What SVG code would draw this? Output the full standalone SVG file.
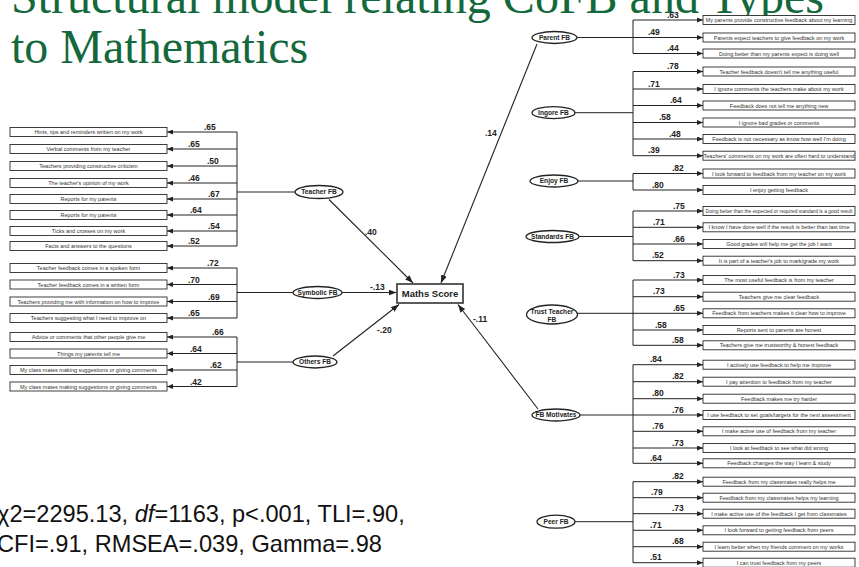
<svg xmlns="http://www.w3.org/2000/svg" width="859" height="567" viewBox="0 0 859 567">
  <style>
    .title { font-family: "Liberation Serif", "Times New Roman", serif; font-size: 48px; fill: #13693b; }
    .stats { font-family: "Liberation Sans", Arial, sans-serif; font-size: 23.6px; fill: #111; }
    .box { fill: #fff; stroke: #2a2a2a; stroke-width: 0.9; }
    .btxt { font-family: "Liberation Sans", Arial, sans-serif; font-size: 5.5px; fill: #333; text-anchor: middle; }
    .lat { fill: #fff; stroke: #222; stroke-width: 1.3; }
    .ltxt { font-family: "Liberation Sans", Arial, sans-serif; font-size: 6.6px; font-weight: bold; fill: #222; text-anchor: middle; }
    .load { font-family: "Liberation Sans", Arial, sans-serif; font-size: 8.5px; font-weight: bold; fill: #222; }
    .wire { fill: none; stroke: #222; stroke-width: 1; }
    .ind { fill: none; stroke: #222; stroke-width: 1; marker-end: url(#tip); }
    .path { fill: none; stroke: #222; stroke-width: 1.1; marker-end: url(#bigtip); }
    .outc { fill: #fff; stroke: #333; stroke-width: 1.6; }
    .otxt { font-family: "Liberation Sans", Arial, sans-serif; font-size: 9.5px; font-weight: bold; fill: #222; text-anchor: middle; }
  </style>
  <defs>
    <marker id="tip" markerUnits="userSpaceOnUse" markerWidth="6" markerHeight="5" refX="6" refY="2.5" orient="auto">
      <path d="M0,0 L6,2.5 L0,5 z" fill="#222"/>
    </marker>
    <marker id="bigtip" markerUnits="userSpaceOnUse" markerWidth="8" markerHeight="6" refX="8" refY="3" orient="auto">
      <path d="M0,0 L8,3 L0,6 z" fill="#222"/>
    </marker>
  </defs>

  <rect width="859" height="567" fill="#fff"/>

  <!-- Title -->
  <g id="title">
    <text class="title" x="11" y="13">Structural model relating CoFB and Types</text>
    <text class="title" x="11" y="63">to Mathematics</text>
  </g>

  <!-- Connectors: buses, indicator arrows and structural paths -->
  <g id="connectors">
    <!-- Teacher FB -->
    <line class="wire" x1="237" y1="132" x2="237" y2="246"/>
    <line class="wire" x1="237" y1="192" x2="295" y2="192"/>
    <line class="ind" x1="237" y1="132" x2="167" y2="132"/>
    <line class="ind" x1="237" y1="149" x2="167" y2="149"/>
    <line class="ind" x1="237" y1="166" x2="167" y2="166"/>
    <line class="ind" x1="237" y1="183" x2="167" y2="183"/>
    <line class="ind" x1="237" y1="199" x2="167" y2="199"/>
    <line class="ind" x1="237" y1="215" x2="167" y2="215"/>
    <line class="ind" x1="237" y1="231" x2="167" y2="231"/>
    <line class="ind" x1="237" y1="246" x2="167" y2="246"/>
    <!-- Symbolic FB -->
    <line class="wire" x1="237" y1="268" x2="237" y2="318"/>
    <line class="wire" x1="237" y1="292.5" x2="293" y2="292.5"/>
    <line class="ind" x1="237" y1="268" x2="167" y2="268"/>
    <line class="ind" x1="237" y1="284.5" x2="167" y2="284.5"/>
    <line class="ind" x1="237" y1="301.5" x2="167" y2="301.5"/>
    <line class="ind" x1="237" y1="318" x2="167" y2="318"/>
    <!-- Others FB -->
    <line class="wire" x1="237" y1="337" x2="237" y2="386.5"/>
    <line class="wire" x1="237" y1="362" x2="293" y2="362"/>
    <line class="ind" x1="237" y1="337" x2="167" y2="337"/>
    <line class="ind" x1="237" y1="353.5" x2="167" y2="353.5"/>
    <line class="ind" x1="237" y1="370" x2="167" y2="370"/>
    <line class="ind" x1="237" y1="386.5" x2="167" y2="386.5"/>

    <!-- Parent FB -->
    <line class="wire" x1="633" y1="20" x2="633" y2="53.5"/>
    <line class="wire" x1="577" y1="37.5" x2="633" y2="37.5"/>
    <line class="ind" x1="633" y1="20" x2="703" y2="20"/>
    <line class="ind" x1="633" y1="37.5" x2="703" y2="37.5"/>
    <line class="ind" x1="633" y1="53.5" x2="703" y2="53.5"/>
    <!-- Ingore FB -->
    <line class="wire" x1="633" y1="71.5" x2="633" y2="155.7"/>
    <line class="wire" x1="575" y1="112.7" x2="633" y2="112.7"/>
    <line class="ind" x1="633" y1="71.5" x2="703" y2="71.5"/>
    <line class="ind" x1="633" y1="89" x2="703" y2="89"/>
    <line class="ind" x1="633" y1="105.5" x2="703" y2="105.5"/>
    <line class="ind" x1="633" y1="122.5" x2="703" y2="122.5"/>
    <line class="ind" x1="633" y1="139" x2="703" y2="139"/>
    <line class="ind" x1="633" y1="155.7" x2="703" y2="155.7"/>
    <!-- Enjoy FB -->
    <line class="wire" x1="633" y1="173.5" x2="633" y2="190"/>
    <line class="wire" x1="578" y1="181" x2="633" y2="181"/>
    <line class="ind" x1="633" y1="173.5" x2="703" y2="173.5"/>
    <line class="ind" x1="633" y1="190" x2="703" y2="190"/>
    <!-- Standards FB -->
    <line class="wire" x1="633" y1="211" x2="633" y2="260.7"/>
    <line class="wire" x1="579" y1="236.5" x2="633" y2="236.5"/>
    <line class="ind" x1="633" y1="211" x2="703" y2="211"/>
    <line class="ind" x1="633" y1="227.3" x2="703" y2="227.3"/>
    <line class="ind" x1="633" y1="244" x2="703" y2="244"/>
    <line class="ind" x1="633" y1="260.7" x2="703" y2="260.7"/>
    <!-- Trust Teacher FB -->
    <line class="wire" x1="633" y1="280" x2="633" y2="345.3"/>
    <line class="wire" x1="577" y1="313.3" x2="633" y2="313.3"/>
    <line class="ind" x1="633" y1="280" x2="703" y2="280"/>
    <line class="ind" x1="633" y1="296.7" x2="703" y2="296.7"/>
    <line class="ind" x1="633" y1="313.3" x2="703" y2="313.3"/>
    <line class="ind" x1="633" y1="330" x2="703" y2="330"/>
    <line class="ind" x1="633" y1="345.3" x2="703" y2="345.3"/>
    <!-- FB Motivates -->
    <line class="wire" x1="633" y1="364.7" x2="633" y2="463.3"/>
    <line class="wire" x1="580" y1="415" x2="633" y2="415"/>
    <line class="ind" x1="633" y1="364.7" x2="703" y2="364.7"/>
    <line class="ind" x1="633" y1="381.7" x2="703" y2="381.7"/>
    <line class="ind" x1="633" y1="398.7" x2="703" y2="398.7"/>
    <line class="ind" x1="633" y1="415" x2="703" y2="415"/>
    <line class="ind" x1="633" y1="431.3" x2="703" y2="431.3"/>
    <line class="ind" x1="633" y1="448" x2="703" y2="448"/>
    <line class="ind" x1="633" y1="463.3" x2="703" y2="463.3"/>
    <!-- Peer FB -->
    <line class="wire" x1="633" y1="481.7" x2="633" y2="562.7"/>
    <line class="wire" x1="575" y1="521.7" x2="633" y2="521.7"/>
    <line class="ind" x1="633" y1="481.7" x2="703" y2="481.7"/>
    <line class="ind" x1="633" y1="497.7" x2="703" y2="497.7"/>
    <line class="ind" x1="633" y1="513.7" x2="703" y2="513.7"/>
    <line class="ind" x1="633" y1="530.3" x2="703" y2="530.3"/>
    <line class="ind" x1="633" y1="546.7" x2="703" y2="546.7"/>
    <line class="ind" x1="633" y1="562.7" x2="703" y2="562.7"/>

    <!-- Structural paths to Maths Score -->
    <line class="path" x1="329" y1="199.5" x2="413" y2="283"/>
    <line class="path" x1="537" y1="44" x2="441" y2="283"/>
    <line class="path" x1="342" y1="292.5" x2="396.5" y2="292.5"/>
    <line class="path" x1="333" y1="356" x2="399" y2="304.5"/>
    <line class="path" x1="538" y1="409" x2="458" y2="304.5"/>

    <!-- Loadings and path coefficients -->
    <g class="load">
      <text x="204" y="130">.65</text>
      <text x="188" y="147">.65</text>
      <text x="207" y="164">.50</text>
      <text x="188" y="181">.46</text>
      <text x="208" y="197">.67</text>
      <text x="190" y="213">.64</text>
      <text x="208" y="229">.54</text>
      <text x="188" y="244">.52</text>
      <text x="207" y="266">.72</text>
      <text x="188" y="282.5">.70</text>
      <text x="208" y="299.5">.69</text>
      <text x="188" y="316">.65</text>
      <text x="212" y="335">.66</text>
      <text x="190" y="351.5">.64</text>
      <text x="210" y="368">.62</text>
      <text x="190" y="384.5">.42</text>

      <text x="667" y="17.5">.63</text>
      <text x="648" y="35">.49</text>
      <text x="667" y="51">.44</text>
      <text x="667" y="69">.78</text>
      <text x="648" y="86.5">.71</text>
      <text x="670" y="103">.64</text>
      <text x="659" y="120">.58</text>
      <text x="669" y="136.5">.48</text>
      <text x="648" y="153.2">.39</text>
      <text x="672" y="171">.82</text>
      <text x="652" y="187.5">.80</text>
      <text x="673" y="208.5">.75</text>
      <text x="653" y="224.8">.71</text>
      <text x="673" y="241.5">.66</text>
      <text x="652" y="258.2">.52</text>
      <text x="673" y="277.5">.73</text>
      <text x="653" y="294.2">.73</text>
      <text x="673" y="310.8">.65</text>
      <text x="655" y="327.5">.58</text>
      <text x="672" y="342.8">.58</text>
      <text x="650" y="362.2">.84</text>
      <text x="672" y="379.2">.82</text>
      <text x="652" y="396.2">.80</text>
      <text x="672" y="412.5">.76</text>
      <text x="652" y="428.8">.76</text>
      <text x="672" y="445.5">.73</text>
      <text x="650" y="460.8">.64</text>
      <text x="672" y="479.2">.82</text>
      <text x="651" y="495.2">.79</text>
      <text x="672" y="511.2">.73</text>
      <text x="650" y="527.8">.71</text>
      <text x="672" y="544.2">.68</text>
      <text x="650" y="560.2">.51</text>

      <text x="365" y="235">.40</text>
      <text x="485" y="136">.14</text>
      <text x="370" y="290">-.13</text>
      <text x="377" y="333">-.20</text>
      <text x="473" y="322">-.11</text>
    </g>
  </g>

  <!-- Outcome -->
  <g id="maths-score">
    <rect class="outc" x="397" y="284" width="66" height="19"/>
    <text class="otxt" x="430" y="297">Maths Score</text>
  </g>

  <!-- Left latent factors -->
  <g id="teacher-fb">
    <ellipse class="lat" cx="319" cy="192" rx="24" ry="6.5"/>
    <text class="ltxt" x="319" y="194.4">Teacher FB</text>
  </g>
  <g id="symbolic-fb">
    <ellipse class="lat" cx="317.5" cy="292.5" rx="24.5" ry="6"/>
    <text class="ltxt" x="317.5" y="294.9">Symbolic FB</text>
  </g>
  <g id="others-fb">
    <ellipse class="lat" cx="315" cy="362" rx="22" ry="6"/>
    <text class="ltxt" x="315" y="364.4">Others FB</text>
  </g>

  <!-- Right latent factors -->
  <g id="parent-fb">
    <ellipse class="lat" cx="554.5" cy="37.5" rx="22.5" ry="6"/>
    <text class="ltxt" x="554.5" y="39.9">Parent FB</text>
  </g>
  <g id="ingore-fb">
    <ellipse class="lat" cx="553.5" cy="112.7" rx="21.5" ry="6"/>
    <text class="ltxt" x="553.5" y="115.1">Ingore FB</text>
  </g>
  <g id="enjoy-fb">
    <ellipse class="lat" cx="554" cy="181" rx="24" ry="6"/>
    <text class="ltxt" x="554" y="183.4">Enjoy FB</text>
  </g>
  <g id="standards-fb">
    <ellipse class="lat" cx="552.5" cy="236.5" rx="26.5" ry="6"/>
    <text class="ltxt" x="552.5" y="238.9">Standards FB</text>
  </g>
  <g id="trust-teacher-fb">
    <ellipse class="lat" cx="552" cy="314.5" rx="25.5" ry="9.5"/>
    <text class="ltxt" x="552" y="313.5">Trust Teacher</text>
    <text class="ltxt" x="552" y="321.5">FB</text>
  </g>
  <g id="fb-motivates">
    <ellipse class="lat" cx="556" cy="415" rx="24" ry="6"/>
    <text class="ltxt" x="556" y="417.4">FB Motivates</text>
  </g>
  <g id="peer-fb">
    <ellipse class="lat" cx="556" cy="521.7" rx="19" ry="6.5"/>
    <text class="ltxt" x="556" y="524.1">Peer FB</text>
  </g>

  <!-- Left indicators -->
  <g id="t1"><rect class="box" x="10" y="127.5" width="157" height="9"/><text class="btxt" x="88.5" y="134">Hints, tips and reminders written on my work</text></g>
  <g id="t2"><rect class="box" x="10" y="144.5" width="157" height="9"/><text class="btxt" x="88.5" y="151">Verbal comments from my teacher</text></g>
  <g id="t3"><rect class="box" x="10" y="161.5" width="157" height="9"/><text class="btxt" x="88.5" y="168">Teachers providing constructive criticism</text></g>
  <g id="t4"><rect class="box" x="10" y="178.5" width="157" height="9"/><text class="btxt" x="88.5" y="185">The teacher's opinion of my work</text></g>
  <g id="t5"><rect class="box" x="10" y="194.5" width="157" height="9"/><text class="btxt" x="88.5" y="201">Reports for my parents</text></g>
  <g id="t6"><rect class="box" x="10" y="210.5" width="157" height="9"/><text class="btxt" x="88.5" y="217">Reports for my parents</text></g>
  <g id="t7"><rect class="box" x="10" y="226.5" width="157" height="9"/><text class="btxt" x="88.5" y="233">Ticks and crosses on my work</text></g>
  <g id="t8"><rect class="box" x="10" y="241.5" width="157" height="9"/><text class="btxt" x="88.5" y="248">Facts and answers to the questions</text></g>

  <g id="s1"><rect class="box" x="10" y="263.5" width="157" height="9"/><text class="btxt" x="88.5" y="270">Teacher feedback comes in a spoken form</text></g>
  <g id="s2"><rect class="box" x="10" y="280" width="157" height="9"/><text class="btxt" x="88.5" y="286.5">Teacher feedback comes in a written form</text></g>
  <g id="s3"><rect class="box" x="10" y="297" width="157" height="9"/><text class="btxt" x="88.5" y="303.5">Teachers providing me with information on how to improve</text></g>
  <g id="s4"><rect class="box" x="10" y="313.5" width="157" height="9"/><text class="btxt" x="88.5" y="320">Teachers suggesting what I need to improve on</text></g>

  <g id="o1"><rect class="box" x="10" y="332.5" width="157" height="9"/><text class="btxt" x="88.5" y="339">Advice or comments that other people give me</text></g>
  <g id="o2"><rect class="box" x="10" y="349" width="157" height="9"/><text class="btxt" x="88.5" y="355.5">Things my parents tell me</text></g>
  <g id="o3"><rect class="box" x="10" y="365.5" width="157" height="9"/><text class="btxt" x="88.5" y="372">My class mates making suggestions or giving comments</text></g>
  <g id="o4"><rect class="box" x="10" y="382" width="157" height="9"/><text class="btxt" x="88.5" y="388.5">My class mates making suggestions or giving comments</text></g>

  <!-- Right indicators -->
  <g id="p1"><rect class="box" x="703" y="15.5" width="152" height="9"/><text class="btxt" x="779" y="22">My parents provide constructive feedback about my learning</text></g>
  <g id="p2"><rect class="box" x="703" y="33" width="152" height="9"/><text class="btxt" x="779" y="39.5">Parents expect teachers to give feedback on my work</text></g>
  <g id="p3"><rect class="box" x="703" y="49" width="152" height="9"/><text class="btxt" x="779" y="55.5">Doing better than my parents expect is doing well</text></g>

  <g id="i1"><rect class="box" x="703" y="67" width="152" height="9"/><text class="btxt" x="779" y="73.5">Teacher feedback doesn't tell me anything useful</text></g>
  <g id="i2"><rect class="box" x="703" y="84.5" width="152" height="9"/><text class="btxt" x="779" y="91">I ignore comments the teachers make about my work</text></g>
  <g id="i3"><rect class="box" x="703" y="101" width="152" height="9"/><text class="btxt" x="779" y="107.5">Feedback does not tell me anything new</text></g>
  <g id="i4"><rect class="box" x="703" y="118" width="152" height="9"/><text class="btxt" x="779" y="124.5">I ignore bad grades or comments</text></g>
  <g id="i5"><rect class="box" x="703" y="134.5" width="152" height="9"/><text class="btxt" x="779" y="141">Feedback is not necessary as know how well I'm doing</text></g>
  <g id="i6"><rect class="box" x="703" y="151.2" width="152" height="9"/><text class="btxt" x="779" y="157.7">Teachers' comments on my work are often hard to understand</text></g>

  <g id="e1"><rect class="box" x="703" y="169" width="152" height="9"/><text class="btxt" x="779" y="175.5">I look forward to feedback from my teacher on my work</text></g>
  <g id="e2"><rect class="box" x="703" y="185.5" width="152" height="9"/><text class="btxt" x="779" y="192">I enjoy getting feedback</text></g>

  <g id="st1"><rect class="box" x="703" y="206.5" width="152" height="9"/><text class="btxt" x="779" y="213" style="font-size:4.9px">Doing better than the expected or required standard is a good result</text></g>
  <g id="st2"><rect class="box" x="703" y="222.8" width="152" height="9"/><text class="btxt" x="779" y="229.3">I know I have done well if the result is better than last time</text></g>
  <g id="st3"><rect class="box" x="703" y="239.5" width="152" height="9"/><text class="btxt" x="779" y="246">Good grades will help me get the job I want</text></g>
  <g id="st4"><rect class="box" x="703" y="256.2" width="152" height="9"/><text class="btxt" x="779" y="262.7">It is part of a teacher's job to mark/grade my work</text></g>

  <g id="tr1"><rect class="box" x="703" y="275.5" width="152" height="9"/><text class="btxt" x="779" y="282">The most useful feedback is from my teacher</text></g>
  <g id="tr2"><rect class="box" x="703" y="292.2" width="152" height="9"/><text class="btxt" x="779" y="298.7">Teachers give me clear feedback</text></g>
  <g id="tr3"><rect class="box" x="703" y="308.8" width="152" height="9"/><text class="btxt" x="779" y="315.3">Feedback from teachers makes it clear how to improve</text></g>
  <g id="tr4"><rect class="box" x="703" y="325.5" width="152" height="9"/><text class="btxt" x="779" y="332">Reports sent to parents are honest</text></g>
  <g id="tr5"><rect class="box" x="703" y="340.8" width="152" height="9"/><text class="btxt" x="779" y="347.3">Teachers give me trustworthy &amp; honest feedback</text></g>

  <g id="m1"><rect class="box" x="703" y="360.2" width="152" height="9"/><text class="btxt" x="779" y="366.7">I actively use feedback to help me improve</text></g>
  <g id="m2"><rect class="box" x="703" y="377.2" width="152" height="9"/><text class="btxt" x="779" y="383.7">I pay attention to feedback from my teacher</text></g>
  <g id="m3"><rect class="box" x="703" y="394.2" width="152" height="9"/><text class="btxt" x="779" y="400.7">Feedback makes me try harder</text></g>
  <g id="m4"><rect class="box" x="703" y="410.5" width="152" height="9"/><text class="btxt" x="779" y="417">I use feedback to set goals/targets for the next assessment</text></g>
  <g id="m5"><rect class="box" x="703" y="426.8" width="152" height="9"/><text class="btxt" x="779" y="433.3">I make active use of feedback from my teacher</text></g>
  <g id="m6"><rect class="box" x="703" y="443.5" width="152" height="9"/><text class="btxt" x="779" y="450">I look at feedback to see what did wrong</text></g>
  <g id="m7"><rect class="box" x="703" y="458.8" width="152" height="9"/><text class="btxt" x="779" y="465.3">Feedback changes the way I learn &amp; study</text></g>

  <g id="pe1"><rect class="box" x="703" y="477.2" width="152" height="9"/><text class="btxt" x="779" y="483.7">Feedback from my classmates really helps me</text></g>
  <g id="pe2"><rect class="box" x="703" y="493.2" width="152" height="9"/><text class="btxt" x="779" y="499.7">Feedback from my classmates helps my learning</text></g>
  <g id="pe3"><rect class="box" x="703" y="509.2" width="152" height="9"/><text class="btxt" x="779" y="515.7">I make active use of the feedback I get from classmates</text></g>
  <g id="pe4"><rect class="box" x="703" y="525.8" width="152" height="9"/><text class="btxt" x="779" y="532.3">I look forward to getting feedback from peers</text></g>
  <g id="pe5"><rect class="box" x="703" y="542.2" width="152" height="9"/><text class="btxt" x="779" y="548.7">I learn better when my friends comment on my works</text></g>
  <g id="pe6"><rect class="box" x="703" y="558.2" width="152" height="9"/><text class="btxt" x="779" y="564.7">I can trust feedback from my peers</text></g>

  <!-- Fit statistics -->
  <g id="fit">
    <text class="stats" x="-3" y="522">χ2=2295.13, <tspan font-style="italic">df</tspan>=1163, p&lt;.001, TLI=.90,</text>
    <text class="stats" x="-3" y="552">CFI=.91, RMSEA=.039, Gamma=.98</text>
  </g>
</svg>
